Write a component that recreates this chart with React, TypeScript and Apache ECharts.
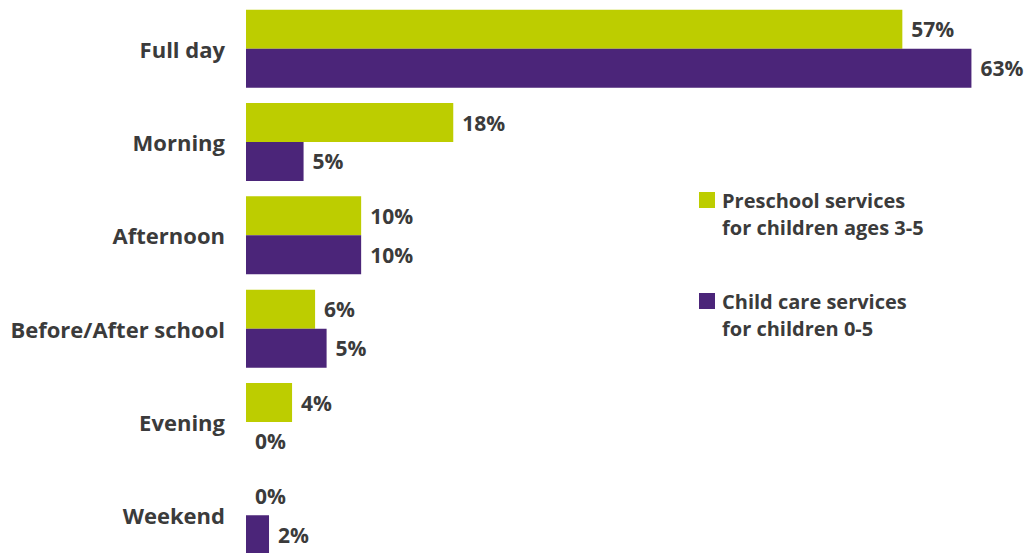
import React, { useEffect, useRef } from "react";
import * as echarts from "echarts";

const categories = ["Full day", "Morning", "Afternoon", "Before/After school", "Evening", "Weekend"];
const preschool = [57, 18, 10, 6, 4, 0];
const childCare = [63, 5, 10, 7, 0, 2];
const preschoolLabels = ["57%", "18%", "10%", "6%", "4%", "0%"];
const childCareLabels = ["63%", "5%", "10%", "5%", "0%", "2%"];
const seriesNames = ["Preschool services\nfor children ages 3-5", "Child care services\nfor children 0-5"];
const colors = ["#BDCD00", "#4B2579"];

const FONT = "'Open Sans', 'Noto Sans', sans-serif";
const TEXT = "#3b3b3b";

export default function App() {
  const ref = useRef<HTMLDivElement>(null);
  useEffect(() => {
    if (!ref.current) return;
    const chart = echarts.init(ref.current, undefined, { renderer: "svg" });
    const mkSeries = (name: string, data: number[], labels: string[], color: string) => ({
      type: "bar",
      name,
      data,
      barGap: "0%",
      barCategoryGap: "16.5%",
      itemStyle: { color },
      label: {
        show: true,
        position: "right",
        distance: 9,
        formatter: (p: any) => labels[p.dataIndex],
        fontFamily: FONT,
        fontWeight: 700,
        fontSize: 21,
        color: TEXT,
      },
    });
    const legendItems = seriesNames.flatMap((n, i) => [
      {
        type: "rect",
        shape: { x: 699, y: 192 + i * 101, width: 16, height: 16 },
        style: { fill: colors[i] },
      },
      {
        type: "text",
        x: 722,
        y: 187 + i * 101,
        style: {
          text: n,
          fontFamily: FONT,
          fontWeight: 700,
          fontSize: 20,
          lineHeight: 27,
          fill: TEXT,
        },
      },
    ]);
    chart.setOption({
      animation: false,
      grid: { left: 246, right: 2, top: 2, bottom: 0, containLabel: false },
      xAxis: {
        type: "value",
        min: 0,
        max: 68,
        show: false,
      },
      yAxis: {
        type: "category",
        data: categories,
        inverse: true,
        axisLine: { show: false },
        axisTick: { show: false },
        axisLabel: {
          margin: 21,
          fontFamily: FONT,
          fontWeight: 700,
          fontSize: 22,
          color: TEXT,
        },
      },
      series: [
        mkSeries(seriesNames[0], preschool, preschoolLabels, colors[0]),
        mkSeries(seriesNames[1], childCare, childCareLabels, colors[1]),
      ],
      graphic: legendItems,
    });
    return () => chart.dispose();
  }, []);
  return (
    <div
      ref={ref}
      style={{ position: "fixed", left: 0, top: 0, width: 1031, height: 562, background: "#fff" }}
    />
  );
}
